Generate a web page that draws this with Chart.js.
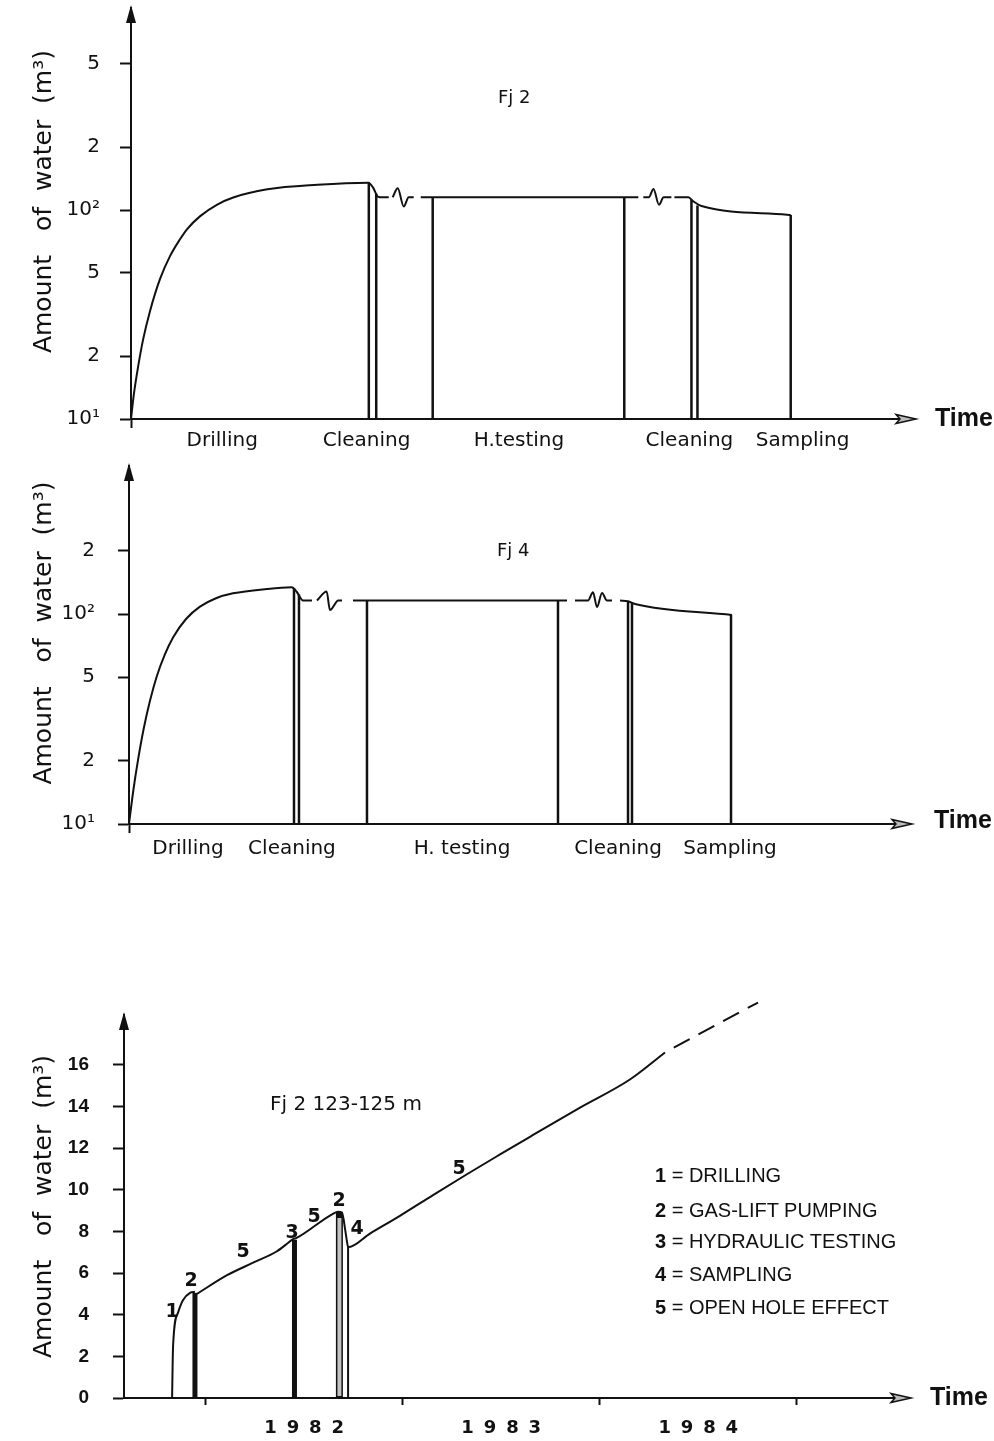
<!DOCTYPE html>
<html><head><meta charset="utf-8">
<script src="https://cdn.jsdelivr.net/npm/chart.js@4.4.1/dist/chart.umd.min.js"></script>
<style>
html,body{margin:0;padding:0;background:#fff;}
#page{position:relative;width:994px;height:1441px;overflow:hidden;background:#fff;}
canvas{position:absolute;left:0;}
.t{position:absolute;color:#111;white-space:pre;line-height:1;}
.fj{font-family:'DejaVu Sans',sans-serif;font-size:18px;}
.time{font-family:'Liberation Sans',sans-serif;font-weight:bold;font-size:25px;}
.lg{font-family:'Liberation Sans',sans-serif;font-size:20px;left:655px;}
.lg b{font-weight:bold;}
.num{font-family:'DejaVu Sans',sans-serif;font-weight:bold;font-size:19px;transform:translate(-50%,-50%);}
</style></head><body><div id="page">
<canvas id="c1" width="994" height="470" style="top:0px"></canvas>
<canvas id="c2" width="994" height="417" style="top:458px"></canvas>
<canvas id="c3" width="994" height="441" style="top:1000px"></canvas>

<div class="t fj" style="left:498px;top:88px">Fj 2</div>
<div class="t time" style="left:935px;top:405px">Time</div>
<div class="t fj" style="left:497px;top:541px">Fj 4</div>
<div class="t time" style="left:934px;top:807px">Time</div>
<div class="t fj" style="left:270px;top:1093px;font-size:20px">Fj 2 123-125 m</div>
<div class="t time" style="left:930px;top:1384px">Time</div>

<div class="t lg" style="top:1165px"><b>1</b> = DRILLING</div>
<div class="t lg" style="top:1200px"><b>2</b> = GAS-LIFT PUMPING</div>
<div class="t lg" style="top:1231px"><b>3</b> = HYDRAULIC TESTING</div>
<div class="t lg" style="top:1264px"><b>4</b> = SAMPLING</div>
<div class="t lg" style="top:1297px"><b>5</b> = OPEN HOLE EFFECT</div>

<div class="t num" style="left:172px;top:1310px">1</div>
<div class="t num" style="left:191px;top:1279px">2</div>
<div class="t num" style="left:243px;top:1250px">5</div>
<div class="t num" style="left:292px;top:1231px">3</div>
<div class="t num" style="left:314px;top:1215px">5</div>
<div class="t num" style="left:339px;top:1199px">2</div>
<div class="t num" style="left:357px;top:1227px">4</div>
<div class="t num" style="left:459px;top:1167px">5</div>
</div>
<script>
// ---------------- DATA ----------------
// Fj 2 (top panel) – x in relative time units (0..100), y = amount of water (m3, log)
const fj2LineX = [0, 0.385, 0.90, 1.54, 2.44, 3.72, 5.01, 6.29, 7.19, 8.86, 11.04, 13.09, 17.46, 23.88, 30.4, 31.0, 31.6, 32.2, 33.0, 33.2, 33.5, 34.15, 34.92, 35.56, 36.2, 36.6, 37.1, 63.16, 64.96, 65.3, 65.6, 66.3, 66.9, 67.6, 68.2, 69.19, 69.4, 69.58, 71.37, 72.0, 73.04, 84.0, 84.47];
const fj2LineY = [10, 13.3, 17.7, 23.9, 32.9, 46.8, 60.3, 72.6, 81.1, 93.5, 106.2, 114.8, 125.6, 132, 135, 128, 116, 115, 115, null, 115, 127, 104, 115, 115, null, 115, 115, 115, null, 115, 115, 126, 106, 115, 115, null, 115, 115, 110, 104.5, 95, 94.6];
const fj2DropX = [30.45, 31.4, 38.63, 63.16, 71.76, 72.53, 84.47];
const fj2DropTop = [135, 120, 115, 115, 112, 105, 94.6];
const fj2PhaseX = [11.68, 30.17, 49.68, 71.5, 86.0];
const fj2PhaseNames = ['Drilling', 'Cleaning', 'H.testing', 'Cleaning', 'Sampling'];
const fj2YTicks = [10, 20, 50, 100, 200, 500];
const fj2YLabels = ['10\u00b9', '2', '5', '10\u00b2', '2', '5'];

// Fj 4 (middle panel)
const fj4LineX = [0, 0.55, 1.16, 1.84, 2.70, 3.56, 4.62, 5.69, 7.32, 9.11, 11.17, 13.35, 17.68, 20.89, 21.5, 22.34, 23.49, 23.8, 24.13, 25.37, 25.8, 26.87, 27.34, 28.0, 28.75, 55.07, 56.23, 56.7, 57.25, 58.92, 59.56, 60.08, 60.72, 61.36, 62.0, 62.5, 63.03, 64.06, 64.96, 77.41];
const fj4LineY = [10, 14.4, 20.2, 27.9, 38.7, 50.4, 64.4, 77.7, 94.7, 108.4, 118.9, 125.5, 131.6, 134, 128, 116, 116, null, 116, 128, 104.5, 116, 116, null, 116, 116, 116, null, 116, 116, 127, 108, 126, 116, 116, null, 116, 115, 111.6, 98.9];
const fj4DropX = [21.18, 21.82, 30.55, 55.07, 64.06, 64.57, 77.28];
const fj4DropTop = [133, 124, 116, 116, 115, 113, 99];
const fj4PhaseX = [7.57, 20.92, 42.75, 62.77, 77.15];
const fj4PhaseNames = ['Drilling', 'Cleaning', 'H. testing', 'Cleaning', 'Sampling'];
const fj4YTicks = [10, 20, 50, 100, 200];
const fj4YLabels = ['10\u00b9', '2', '5', '10\u00b2', '2'];

// Fj 2 123-125 m (bottom panel) – x in years, y in m3
const drillT = [1981.830, 1981.835, 1981.860, 1981.885, 1981.921, 1981.946];
const drillV = [0, 2.5, 4.1, 4.7, 5.05, 5.1];
const openT = [1981.956, 1982.109, 1982.241, 1982.362, 1982.418, 1982.438, 1982.464, 1982.646, 1982.672, 1982.692, 1982.700, 1982.708, 1982.716, 1982.723, 1982.834, 1982.986, 1983.154, 1983.326, 1983.494, 1983.646, 1983.900, 1984.153, 1984.331];
const openV = [5.0, 5.9, 6.5, 7.05, 7.45, 7.6, 7.7, 8.85, 8.95, 8.9, 8.6, 8.1, 7.6, 7.25, 7.9, 8.75, 9.75, 10.75, 11.7, 12.55, 13.95, 15.3, 16.6];
const extrapT = [1984.331, 1984.803];
const extrapV = [16.6, 19.0];
const eventT = [1981.946, 1982.451, 1982.679, 1982.723];
const eventTop = [5.05, 7.6, 8.95, 7.25];
const eventKind = ['pump', 'test', 'pump2', 'sample'];
const yearTicks = [1982, 1982.5, 1983, 1983.5, 1984, 1984.5, 1985];
const years = ['1982', '1983', '1984'];
const amountTicks = [0, 2, 4, 6, 8, 10, 12, 14, 16];

// ---------------- RENDER ----------------
Chart.defaults.font.family = "'DejaVu Sans', sans-serif";
Chart.defaults.color = '#111';
const INK = '#111';
const yTitleTop = '\u00a0\u00a0\u00a0Amount\u00a0\u00a0\u00a0of\u00a0\u00a0water\u00a0\u00a0(m\u00b3)';
const yTitleBottom = 'Amount\u00a0\u00a0\u00a0of\u00a0\u00a0water\u00a0\u00a0(m\u00b3)';

function zeroPad(s){ s.paddingTop = 0; s.paddingBottom = 0; s.paddingLeft = 0; s.paddingRight = 0; }
function pts(xs, ys){ return xs.map((x, i) => ({x: x, y: ys[i]})); }
function drops(xs, tops, base){ const d = []; xs.forEach((x, i) => { d.push({x: x, y: base}, {x: x, y: tops[i]}, {x: x, y: null}); }); return d; }

const arrows = {
  id: 'arrows',
  afterDraw(chart){
    const {ctx, chartArea: a} = chart;
    ctx.save();
    ctx.fillStyle = INK;
    ctx.beginPath();
    ctx.moveTo(a.left, a.top - 3);
    ctx.lineTo(a.left - 5, a.top + 15);
    ctx.lineTo(a.left + 5, a.top + 15);
    ctx.closePath(); ctx.fill();
    ctx.beginPath();
    ctx.moveTo(a.right + 4, a.bottom);
    ctx.lineTo(a.right - 16, a.bottom - 4.5);
    ctx.lineTo(a.right - 12, a.bottom);
    ctx.lineTo(a.right - 16, a.bottom + 4.5);
    ctx.closePath();
    ctx.fillStyle = '#bbb'; ctx.fill();
    ctx.lineWidth = 1.5; ctx.strokeStyle = INK; ctx.stroke();
    ctx.restore();
  }
};

function lineDs(data, extra){ return Object.assign({data: data, borderColor: INK, borderWidth: 2, pointRadius: 0, spanGaps: false, fill: false}, extra || {}); }

function phaseAxis(centers, names, height, pad){
  const vals = [0].concat(centers);
  const labs = [''].concat(names);
  return {
    type: 'linear', min: 0, max: 100,
    afterBuildTicks: s => { s.ticks = vals.map(v => ({value: v})); },
    afterFit: s => { s.height = height; zeroPad(s); },
    border: {display: true, color: INK, width: 2},
    grid: {drawOnChartArea: false, drawTicks: true, tickLength: 9, tickWidth: 2, color: 'rgba(0,0,0,0)', tickColor: c => c.index === 0 ? INK : 'rgba(0,0,0,0)'},
    ticks: {autoSkip: false, maxRotation: 0, minRotation: 0, padding: pad, font: {size: 20}, color: INK, callback: (v, i) => labs[i]}
  };
}
function logAxis(max, vals, labs, width, pad){
  return {
    type: 'logarithmic', min: 10, max: max,
    afterBuildTicks: s => { s.ticks = vals.map(v => ({value: v})); },
    afterFit: s => { s.width = width; zeroPad(s); },
    border: {display: true, color: INK, width: 2},
    grid: {drawOnChartArea: false, tickLength: 11, tickWidth: 2, tickColor: INK, color: INK},
    ticks: {padding: pad, font: {size: 20}, color: INK, callback: (v, i) => labs[i]},
    title: {display: true, text: yTitleTop, font: {size: 25}, color: INK, padding: {top: 29, bottom: 0}}
  };
}

function logPanel(id, lineX, lineY, dropX, dropTop, phaseX, phaseNames, yMax, yVals, yLabs, opts){
  new Chart(document.getElementById(id), {
    type: 'line',
    data: {datasets: [
      lineDs(pts(lineX, lineY), {cubicInterpolationMode: 'monotone'}),
      lineDs(drops(dropX, dropTop, 10), {borderWidth: 2.5})
    ]},
    options: {
      responsive: false, animation: false, devicePixelRatio: 1,
      layout: {padding: {top: opts.top, right: opts.right, left: 0, bottom: 0}},
      plugins: {legend: {display: false}, tooltip: {enabled: false}},
      scales: {
        x: phaseAxis(phaseX, phaseNames, opts.xh, opts.xpad),
        y: logAxis(yMax, yVals, yLabs, opts.yw, opts.ypad)
      }
    },
    plugins: [arrows]
  });
}

logPanel('c1', fj2LineX, fj2LineY, fj2DropX, fj2DropTop, fj2PhaseX, fj2PhaseNames, 926, fj2YTicks, fj2YLabels,
  {top: 8, right: 82, xh: 51, xpad: 1, yw: 131, ypad: 20});
logPanel('c2', fj4LineX, fj4LineY, fj4DropX, fj4DropTop, fj4PhaseX, fj4PhaseNames, 507, fj4YTicks, fj4YLabels,
  {top: 8, right: 86, xh: 51, xpad: 4, yw: 129, ypad: 23});

// bottom panel
const eventStyle = {pump: {w: 5, c: INK}, test: {w: 5, c: INK}, pump2: {w: 7, c: INK}, sample: {w: 2, c: INK}};
const eventSets = [];
eventT.forEach((t, i) => {
  const st = eventStyle[eventKind[i]];
  eventSets.push(lineDs([{x: t, y: 0}, {x: t, y: eventTop[i]}], {borderWidth: st.w, borderColor: st.c, borderCapStyle: 'butt', order: 1}));
  if (eventKind[i] === 'pump2') {
    eventSets.push(lineDs([{x: t, y: 0.1}, {x: t, y: eventTop[i] - 0.3}], {borderWidth: 4, borderColor: '#c2c2c2', borderCapStyle: 'butt', order: 0}));
  }
});

new Chart(document.getElementById('c3'), {
  type: 'line',
  data: {datasets: [
    lineDs(pts(drillT, drillV), {cubicInterpolationMode: 'monotone', order: 0}),
    lineDs(pts(openT, openV), {cubicInterpolationMode: 'monotone', order: 0}),
    lineDs(pts(extrapT, extrapV), {borderDash: [18, 10], borderDashOffset: 18, clip: false, order: 0})
  ].concat(eventSets)},
  options: {
    responsive: false, animation: false, devicePixelRatio: 1,
    layout: {padding: {top: 15, right: 87, left: 0, bottom: 0}},
    plugins: {legend: {display: false}, tooltip: {enabled: false}},
    scales: {
      x: {
        type: 'linear', min: 1981.586, max: 1985.559,
        afterBuildTicks: s => { s.ticks = yearTicks.map(v => ({value: v})); },
        afterFit: s => { s.height = 43; zeroPad(s); },
        border: {display: true, color: INK, width: 2},
        grid: {drawOnChartArea: false, tickLength: 7, tickWidth: 2, color: 'rgba(0,0,0,0)',
          tickColor: c => (c.tick && Number.isInteger(c.tick.value)) ? INK : 'rgba(0,0,0,0)'},
        ticks: {autoSkip: false, maxRotation: 0, minRotation: 0, padding: 13, color: INK,
          font: {family: "'DejaVu Sans', sans-serif", size: 18, weight: 'bold'},
          callback: v => Number.isInteger(v) ? '' : years[Math.floor(v) - 1982].split('').join('\u00a0\u2009')}
      },
      y: {
        type: 'linear', min: 0, max: 18.4,
        afterBuildTicks: s => { s.ticks = amountTicks.map(v => ({value: v})); },
        afterFit: s => { s.width = 124; zeroPad(s); },
        border: {display: true, color: INK, width: 2},
        grid: {drawOnChartArea: false, tickLength: 11, tickWidth: 2, tickColor: INK, color: INK},
        ticks: {padding: 24, color: INK, font: {family: "'Liberation Sans Narrow', 'Liberation Sans', sans-serif", size: 19, weight: 'bold'},
          callback: v => String(v)},
        title: {display: true, text: yTitleBottom, font: {size: 25}, color: INK, padding: {top: 29, bottom: 0}}
      }
    }
  },
  plugins: [arrows]
});
</script>
</body></html>
